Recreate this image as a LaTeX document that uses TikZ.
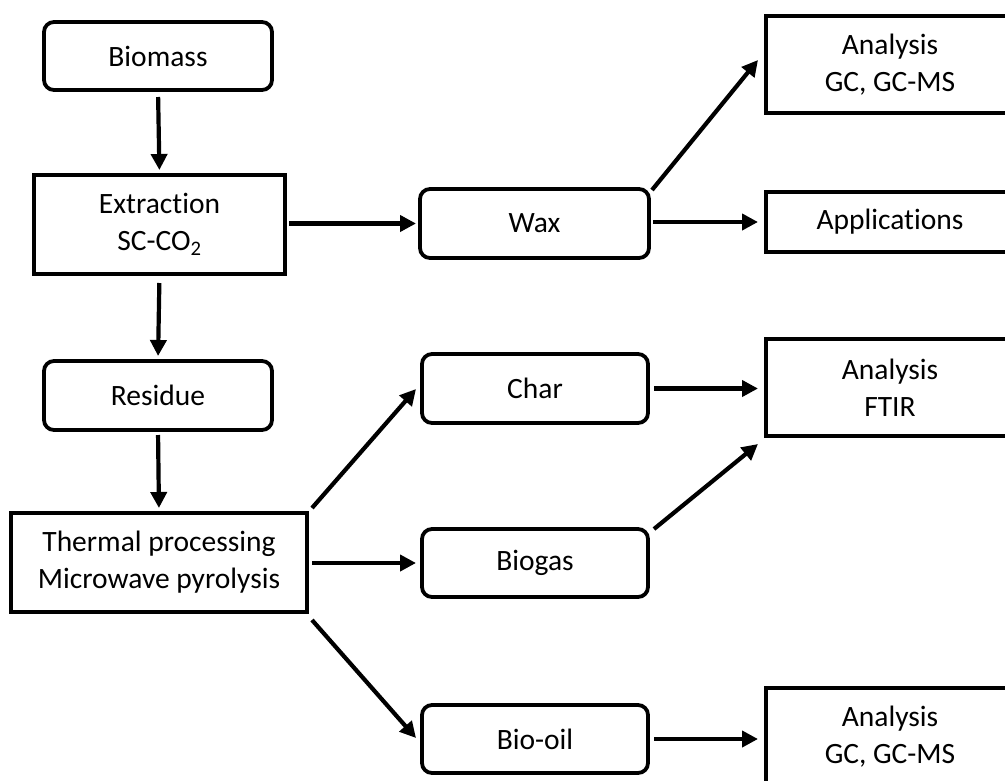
\documentclass[tikz,border=0pt]{standalone}
\usepackage{fontspec}
\setmainfont{Carlito}[Ligatures={NoCommon}]
\usetikzlibrary{arrows.meta,calc}
\begin{document}
\begin{tikzpicture}[x=1pt,y=-1pt,
  box/.style={draw,line width=3.8pt,inner sep=0pt,outer sep=0pt,align=center,
    font=\fontsize{29.5}{37}\selectfont},
  rbox/.style={box,rounded corners=10pt},
  arr/.style={line width=4.2pt,-{Triangle[length=16pt,width=16pt]}}]
\useasboundingbox (0,0) rectangle (1005,780);
% left column
\node[rbox,minimum width=228pt,minimum height=68pt] (bio) at (158,56) {Biomass};
\node[box,minimum width=251pt,minimum height=99pt] (ext) at (159.5,224.5) {Extraction\\SC-CO\textsubscript{2}};
\node[rbox,minimum width=228pt,minimum height=69pt] (res) at (158,395.5) {Residue};
\node[box,minimum width=296pt,minimum height=99pt] (th) at (159,562.5) {Thermal processing\\Microwave pyrolysis};
% middle column
\node[rbox,minimum width=229pt,minimum height=69pt] (wax) at (534.5,223.5) {Wax};
\node[rbox,minimum width=226pt,minimum height=69pt] (char) at (535,388.5) {Char};
\node[rbox,minimum width=226pt,minimum height=68pt] (gas) at (535,563) {Biogas};
\node[rbox,minimum width=226pt,minimum height=68pt] (oil) at (535,739) {Bio-oil};
% right column
\node[box,minimum width=248pt,minimum height=97pt] (an1) at (890,64.5) {Analysis\\GC, GC-MS};
\node[box,minimum width=248pt,minimum height=60pt] (app) at (890,222) {Applications};
\node[box,minimum width=248pt,minimum height=97pt] (ftir) at (890,387.5) {Analysis\\FTIR};
\node[box,minimum width=248pt,minimum height=97pt] (an2) at (890,736.5) {Analysis\\GC, GC-MS};
% vertical arrows
\draw[arr,shorten <=7pt,shorten >=5pt] (bio.south) -- (ext.north);
\draw[arr,shorten <=9pt,shorten >=5pt] (ext.south) -- (res.north);
\draw[arr,shorten <=5pt,shorten >=5pt] (res.south) -- (th.north);
% horizontal arrows
\draw[arr,shorten <=4pt,shorten >=4pt] (ext.east |- wax.west) -- (wax.west);
\draw[arr,shorten <=4pt,shorten >=8pt] (wax.east |- app.west) -- (app.west);
\draw[arr,shorten <=5pt,shorten >=6pt] (th.east |- gas.west) -- (gas.west);
\draw[arr,shorten <=6pt,shorten >=8pt] (char.east) -- (char.east -| ftir.west);
\draw[arr,shorten <=6pt,shorten >=8pt] (oil.east) -- (oil.east -| an2.west);
% diagonal arrows
\draw[arr] ($(wax.north east)+(3,1)$) -- ($(an1.west)+(-8,-4.5)$);
\draw[arr] ($(th.north east)+(5,-5)$) -- ($(char.west)+(-6,0.5)$);
\draw[arr] ($(th.south east)+(5,8)$) -- ($(oil.west)+(-6,-1)$);
\draw[arr] ($(gas.north east)+(6,0)$) -- ($(ftir.south west)+(-8,8)$);
\end{tikzpicture}
\end{document}
